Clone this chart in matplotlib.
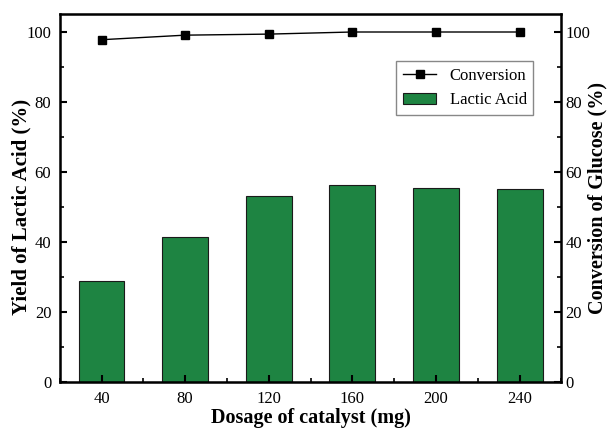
import numpy as np
import matplotlib.pyplot as plt
from matplotlib.ticker import MultipleLocator

plt.rcParams['font.family'] = ['Liberation Serif', 'DejaVu Serif']

# 数据
dosage = [40, 80, 120, 160, 200, 240]
lactic_yield = [29.0, 41.5, 53.0, 56.2, 55.3, 55.0]
conversion = [97.7, 99.0, 99.3, 99.9, 99.9, 99.9]

fig, ax = plt.subplots(figsize=(6.09, 4.28), dpi=100)
fig.subplots_adjust(left=0.098, right=0.922, top=0.967, bottom=0.107)

bars = ax.bar(dosage, lactic_yield, width=22, color='#1E8442', edgecolor='#1a1a1a',
              linewidth=0.8, label='Lactic Acid')
ax.set_xlim(20, 260)
ax.set_ylim(0, 105)
ax.set_xticks(dosage)
ax.xaxis.set_minor_locator(MultipleLocator(20))
ax.yaxis.set_major_locator(MultipleLocator(20))
ax.yaxis.set_minor_locator(MultipleLocator(10))
ax.tick_params(which='both', direction='in', labelsize=12, pad=6)
ax.tick_params(which='major', length=5, width=1.5)
ax.tick_params(which='minor', length=3, width=1.2)
ax.set_xlabel('Dosage of catalyst (mg)', fontsize=14.5, fontweight='bold', labelpad=1)
ax.set_ylabel('Yield of Lactic Acid (%)', fontsize=15, fontweight='bold')
ax.yaxis.set_label_coords(-0.076, 0.477)
ax.yaxis.label.set_va('center')
for s in ax.spines.values():
    s.set_linewidth(1.8)

ax2 = ax.twinx()
line, = ax2.plot(dosage, conversion, color='black', marker='s', markersize=6,
                 linewidth=1, label='Conversion')
ax2.set_ylim(0, 105)
ax2.yaxis.set_major_locator(MultipleLocator(20))
ax2.yaxis.set_minor_locator(MultipleLocator(10))
ax2.tick_params(which='both', direction='in', labelsize=12, pad=3)
ax2.tick_params(which='major', length=5, width=1.5)
ax2.tick_params(which='minor', length=3, width=1.2)
ax2.set_ylabel('Conversion of Glucose (%)', fontsize=14.5, fontweight='bold')
ax2.yaxis.set_label_coords(1.072, 0.5)
ax2.yaxis.label.set_va('center')

ax2.legend([line, bars], ['Conversion', 'Lactic Acid'], loc='upper right',
           bbox_to_anchor=(0.944, 0.872), borderaxespad=0, fontsize=12,
           fancybox=False, edgecolor='#888888', framealpha=1, handlelength=2.0)

plt.savefig('out.png', dpi=100)
